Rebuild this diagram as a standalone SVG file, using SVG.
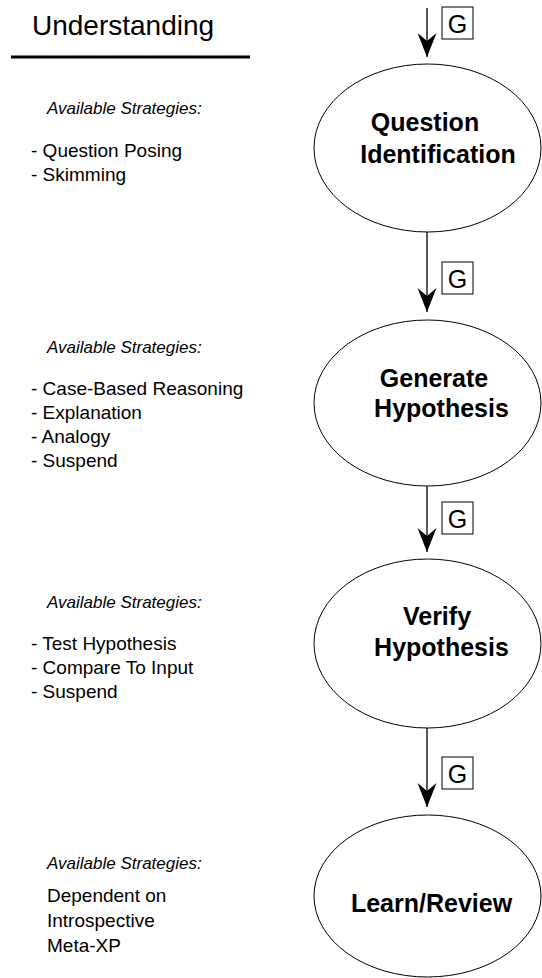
<svg xmlns="http://www.w3.org/2000/svg" width="542" height="978" viewBox="0 0 542 978">
<style>
text{font-family:"Liberation Sans",Arial,sans-serif;fill:#000}
.title{font-size:28px}
.hdr{font-size:17px;font-style:italic}
.item{font-size:19px}
.node{font-size:25px;font-weight:bold;text-anchor:middle}
.g{font-size:25px;text-anchor:middle}
ellipse{fill:#fff;stroke:#000;stroke-width:1}
.box{fill:#fff;stroke:#000;stroke-width:1}
.conn{stroke:#000;stroke-width:1.3;fill:none;marker-end:url(#ah)}
</style>
<defs>
<marker id="ah" markerUnits="userSpaceOnUse" markerWidth="26" markerHeight="22" viewBox="0 0 26 22" refX="24" refY="11" orient="auto">
<path d="M24,11 L0,1.5 L8,11 L0,20.5 Z" fill="#000"/>
</marker>
</defs>
<rect width="542" height="978" fill="#fff"/>

<g id="header">
<text class="title" x="32" y="35">Understanding</text>
<line x1="11" y1="57" x2="250" y2="57" stroke="#000" stroke-width="3"/>
</g>

<g id="strategies1">
<text class="hdr" x="47" y="114">Available Strategies:</text>
<text class="item" x="31" y="157">- Question Posing</text>
<text class="item" x="31" y="181">- Skimming</text>
</g>
<g id="strategies2">
<text class="hdr" x="47" y="353">Available Strategies:</text>
<text class="item" x="31" y="395">- Case-Based Reasoning</text>
<text class="item" x="31" y="419">- Explanation</text>
<text class="item" x="31" y="443">- Analogy</text>
<text class="item" x="31" y="467">- Suspend</text>
</g>
<g id="strategies3">
<text class="hdr" x="47" y="608">Available Strategies:</text>
<text class="item" x="31" y="650">- Test Hypothesis</text>
<text class="item" x="31" y="674">- Compare To Input</text>
<text class="item" x="31" y="698">- Suspend</text>
</g>
<g id="strategies4">
<text class="hdr" x="47" y="869">Available Strategies:</text>
<text class="item" x="47" y="902">Dependent on</text>
<text class="item" x="47" y="927">Introspective</text>
<text class="item" x="47" y="952">Meta-XP</text>
</g>

<g id="connectors">
<line class="conn" x1="427" y1="8" x2="427" y2="57"/>
<line class="conn" x1="427" y1="232" x2="427" y2="312"/>
<line class="conn" x1="427" y1="486" x2="427" y2="552"/>
<line class="conn" x1="427" y1="728" x2="427" y2="807"/>
<rect class="box" x="442" y="7" width="31" height="32"/>
<text class="g" x="457.5" y="33">G</text>
<rect class="box" x="442" y="262" width="31" height="32"/>
<text class="g" x="457.5" y="288">G</text>
<rect class="box" x="442" y="502" width="31" height="32"/>
<text class="g" x="457.5" y="528">G</text>
<rect class="box" x="442" y="757" width="31" height="32"/>
<text class="g" x="457.5" y="783">G</text>
</g>

<g id="node-question-identification">
<ellipse cx="427.5" cy="148" rx="113.5" ry="84"/>
<text class="node" x="425" y="131">Question</text>
<text class="node" x="438" y="163">Identification</text>
</g>
<g id="node-generate-hypothesis">
<ellipse cx="427.5" cy="403" rx="113.5" ry="83"/>
<text class="node" x="434" y="387">Generate</text>
<text class="node" x="441.5" y="417">Hypothesis</text>
</g>
<g id="node-verify-hypothesis">
<ellipse cx="427.5" cy="643.5" rx="113.5" ry="84.5"/>
<text class="node" x="437" y="625">Verify</text>
<text class="node" x="441.5" y="656">Hypothesis</text>
</g>
<g id="node-learn-review">
<ellipse cx="427.5" cy="896" rx="113.5" ry="81"/>
<text class="node" x="431.5" y="912">Learn/Review</text>
</g>
</svg>
